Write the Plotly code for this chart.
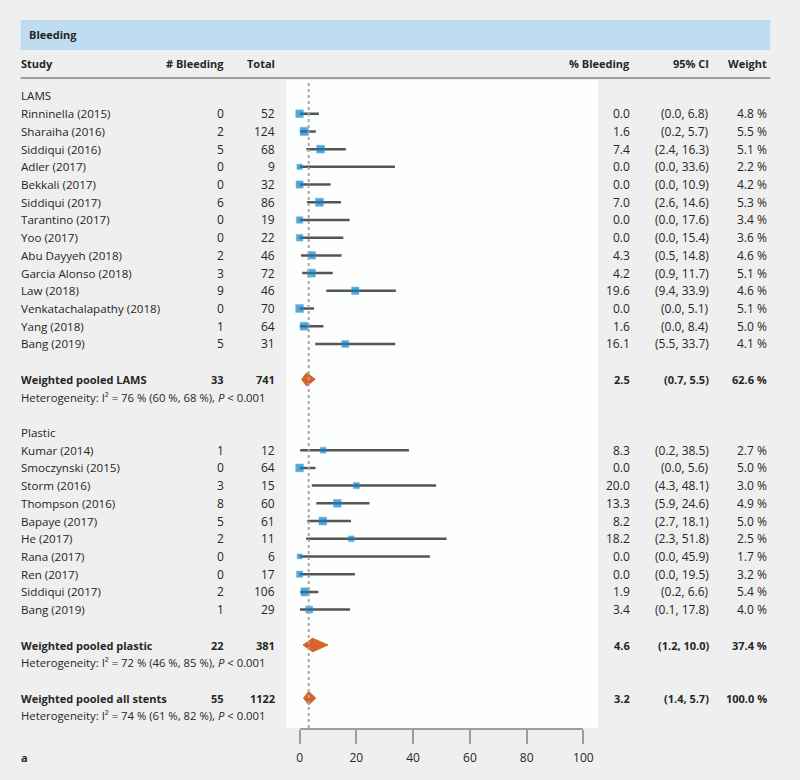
import plotly.graph_objects as go

# ---------------- data ----------------
lams_names = ["Rinninella (2015)", "Sharaiha (2016)", "Siddiqui (2016)", "Adler (2017)",
              "Bekkali (2017)", "Siddiqui (2017)", "Tarantino (2017)", "Yoo (2017)",
              "Abu Dayyeh (2018)", "Garcia Alonso (2018)", "Law (2018)",
              "Venkatachalapathy (2018)", "Yang (2018)", "Bang (2019)"]
lams_events = [0, 2, 5, 0, 0, 6, 0, 0, 2, 3, 9, 0, 1, 5]
lams_total = [52, 124, 68, 9, 32, 86, 19, 22, 46, 72, 46, 70, 64, 31]
lams_est = [0.0, 1.6, 7.4, 0.0, 0.0, 7.0, 0.0, 0.0, 4.3, 4.2, 19.6, 0.0, 1.6, 16.1]
lams_lo = [0.0, 0.2, 2.4, 0.0, 0.0, 2.6, 0.0, 0.0, 0.5, 0.9, 9.4, 0.0, 0.0, 5.5]
lams_hi = [6.8, 5.7, 16.3, 33.6, 10.9, 14.6, 17.6, 15.4, 14.8, 11.7, 33.9, 5.1, 8.4, 33.7]
lams_weight = [4.8, 5.5, 5.1, 2.2, 4.2, 5.3, 3.4, 3.6, 4.6, 5.1, 4.6, 5.1, 5.0, 4.1]

plastic_names = ["Kumar (2014)", "Smoczynski (2015)", "Storm (2016)", "Thompson (2016)",
                 "Bapaye (2017)", "He (2017)", "Rana (2017)", "Ren (2017)",
                 "Siddiqui (2017)", "Bang (2019)"]
plastic_events = [1, 0, 3, 8, 5, 2, 0, 0, 2, 1]
plastic_total = [12, 64, 15, 60, 61, 11, 6, 17, 106, 29]
plastic_est = [8.3, 0.0, 20.0, 13.3, 8.2, 18.2, 0.0, 0.0, 1.9, 3.4]
plastic_lo = [0.2, 0.0, 4.3, 5.9, 2.7, 2.3, 0.0, 0.0, 0.2, 0.1]
plastic_hi = [38.5, 5.6, 48.1, 24.6, 18.1, 51.8, 45.9, 19.5, 6.6, 17.8]
plastic_weight = [2.7, 5.0, 3.0, 4.9, 5.0, 2.5, 1.7, 3.2, 5.4, 4.0]

pooled_names = ["Weighted pooled LAMS", "Weighted pooled plastic", "Weighted pooled all stents"]
pooled_events = [33, 22, 55]
pooled_total = [741, 381, 1122]
pooled_est = [2.5, 4.6, 3.2]
pooled_lo = [0.7, 1.2, 1.4]
pooled_hi = [5.5, 10.0, 5.7]
pooled_weight = [62.6, 37.4, 100.0]
het_i2 = [76, 72, 74]
het_lo = [60, 46, 61]
het_hi = [68, 85, 82]
het_p = ["0.001", "0.001", "0.001"]

title = "Bleeding"
col_headers = ["Study", "# Bleeding", "Total", "% Bleeding", "95% CI", "Weight"]
group_labels = ["LAMS", "Plastic"]
x_ticks = [0, 20, 40, 60, 80, 100]
panel_label = "a"

# ---------------- row layout ----------------
lams_rows = list(range(1, 1 + len(lams_names)))
lams_pool_row = lams_rows[-1] + 2
plastic_head_row = lams_pool_row + 3
plastic_rows = list(range(plastic_head_row + 1, plastic_head_row + 1 + len(plastic_names)))
plastic_pool_row = plastic_rows[-1] + 2
all_pool_row = plastic_pool_row + 3
pool_rows = [lams_pool_row, plastic_pool_row, all_pool_row]

W, H = 800, 780
ROW0_PX, ROW_PX = 96.0, 17.71
PLOT_TOP, PLOT_BOT = 80.0, 728.0
XL, XR = 301.5, 590.0  # pixel positions of 0 and 100


def px(xp):
    return xp / W


def py(yp):
    return 1 - yp / H


y_top = (PLOT_TOP - ROW0_PX) / ROW_PX
y_bot = (PLOT_BOT - ROW0_PX) / ROW_PX

FONT = "Open Sans"
TXT = "#262626"
FS_TXT = 11.6    # study names / group labels
FS_NUM = 12.0    # numbers
FSB = 11.0       # bold
FSH = 11.3       # heterogeneity lines

fig = go.Figure()

study_est = lams_est + plastic_est
study_lo = lams_lo + plastic_lo
study_hi = lams_hi + plastic_hi
study_w = lams_weight + plastic_weight
study_rows = lams_rows + plastic_rows

cx, cy = [], []
for lo, hi, r in zip(study_lo, study_hi, study_rows):
    cx += [lo, hi, None]
    cy += [r, r, None]
fig.add_trace(go.Scatter(x=cx, y=cy, mode="lines", line=dict(color="#555555", width=2.5),
                         hoverinfo="skip", showlegend=False, cliponaxis=False))
fig.add_trace(go.Scatter(x=study_est, y=study_rows, mode="markers",
                         marker=dict(symbol="square", color="#0b82c9",
                                     size=[3.6 + 0.85 * w for w in study_w],
                                     line=dict(color="#3a9ad6", width=0.5)),
                         showlegend=False, cliponaxis=False))

for est, lo, hi, r in zip(pooled_est, pooled_lo, pooled_hi, pool_rows):
    fig.add_trace(go.Scatter(x=[lo, est, hi, est, lo], y=[r, r - 0.38, r, r + 0.38, r],
                             mode="lines", fill="toself", fillcolor="#d9612b",
                             line=dict(color="#d9612b", width=1), showlegend=False,
                             hoverinfo="skip", cliponaxis=False))

shapes = [
    dict(type="rect", xref="paper", yref="paper", x0=px(18), x1=px(780), y0=py(50), y1=py(20),
         fillcolor="#bfdcf0", line=dict(width=0), layer="below"),
    dict(type="line", xref="paper", yref="paper", x0=px(18), x1=px(780), y0=py(78), y1=py(78),
         line=dict(color="#9e9e9e", width=2)),
    dict(type="rect", xref="paper", yref="paper", x0=px(288), x1=px(605), y0=py(PLOT_BOT), y1=py(PLOT_TOP),
         fillcolor="#fdfefe", line=dict(width=0), layer="below"),
    dict(type="line", xref="x", yref="paper", x0=pooled_est[2], x1=pooled_est[2],
         y0=py(PLOT_BOT), y1=py(PLOT_TOP + 2), line=dict(color="#a8a8a8", width=2, dash="3px,3px"),
         layer="above"),
]

ann = []
LX = 16  # left text anchor (annotation box adds ~2px padding)
X_EV, X_TOT, X_EST, X_CI, X_W = 227, 279, 639, 719.5, 778.5


def cell(text, xp, row, anchor, size, bold=False):
    if bold:
        text = "<b>" + text + "</b>"
    ann.append(dict(text=text, x=px(xp), xref="paper", y=row, yref="y", xanchor=anchor,
                    yanchor="middle", showarrow=False, font=dict(family=FONT, size=size, color=TXT)))


ann.append(dict(text="<b>" + title + "</b>", x=px(24.5), xref="paper", y=py(34.5), yref="paper",
                xanchor="left", yanchor="middle", showarrow=False,
                font=dict(family=FONT, size=FSB, color=TXT)))
hdr_x = [LX, X_EV, X_TOT, X_EST, X_CI, X_W]
hdr_anchor = ["left", "right", "right", "right", "right", "right"]
for t, xp, a in zip(col_headers, hdr_x, hdr_anchor):
    ann.append(dict(text="<b>" + t + "</b>", x=px(xp), xref="paper", y=py(63.5), yref="paper",
                    xanchor=a, yanchor="middle", showarrow=False,
                    font=dict(family=FONT, size=FSB, color=TXT)))

cell(group_labels[0], LX, 0, "left", FS_TXT)
cell(group_labels[1], LX, plastic_head_row, "left", FS_TXT)

names = lams_names + plastic_names
events = lams_events + plastic_events
totals = lams_total + plastic_total
for n, e, t, est, lo, hi, w, r in zip(names, events, totals, study_est, study_lo, study_hi, study_w, study_rows):
    cell(n, LX, r, "left", FS_TXT)
    cell(str(e), X_EV, r, "right", FS_NUM)
    cell(str(t), X_TOT, r, "right", FS_NUM)
    cell(f"{est:.1f}", X_EST, r, "right", FS_NUM)
    cell(f"({lo:.1f}, {hi:.1f})", X_CI, r, "right", FS_NUM)
    cell(f"{w:.1f} %", X_W, r, "right", FS_NUM)

for i, r in enumerate(pool_rows):
    cell(pooled_names[i], LX, r, "left", FSB, True)
    cell(str(pooled_events[i]), X_EV, r, "right", FSB, True)
    cell(str(pooled_total[i]), X_TOT, r, "right", FSB, True)
    cell(f"{pooled_est[i]:.1f}", X_EST, r, "right", FSB, True)
    cell(f"({pooled_lo[i]:.1f}, {pooled_hi[i]:.1f})", X_CI, r, "right", FSB, True)
    cell(f"{pooled_weight[i]:.1f} %", X_W, r, "right", FSB, True)
    cell(f"Heterogeneity: I² = {het_i2[i]} % ({het_lo[i]} %, {het_hi[i]} %), "
         f"<i>P</i> &lt; {het_p[i]}", LX, r + 1, "left", FSH)

ann.append(dict(text="<b>" + panel_label + "</b>", x=px(LX), xref="paper", y=py(757), yref="paper",
                xanchor="left", yanchor="middle", showarrow=False,
                font=dict(family=FONT, size=FSB, color=TXT)))

fig.update_layout(
    width=W, height=H, margin=dict(l=0, r=0, t=0, b=0),
    paper_bgcolor="#efefef", plot_bgcolor="rgba(0,0,0,0)",
    shapes=shapes, annotations=ann,
    xaxis=dict(domain=[px(XL), px(XR)], range=[0, 100], tickvals=x_ticks,
               showgrid=False, zeroline=False, showline=True, linecolor="#9e9e9e", linewidth=2,
               ticks="outside", ticklen=14, tickwidth=2, tickcolor="#9e9e9e",
               tickfont=dict(family=FONT, size=FS_NUM, color=TXT), ticklabelstandoff=4),
    yaxis=dict(domain=[py(PLOT_BOT), py(PLOT_TOP)], range=[y_bot, y_top], visible=False),
    font=dict(family=FONT, size=FS_TXT, color=TXT),
)

fig.write_html("out.html",
               config={"displayModeBar": False, "responsive": False},
               post_script=("document.documentElement.style.margin='0';"
                            "document.body.style.margin='0';"
                            "document.documentElement.style.overflow='hidden';"
                            "document.body.style.overflow='hidden';"))
